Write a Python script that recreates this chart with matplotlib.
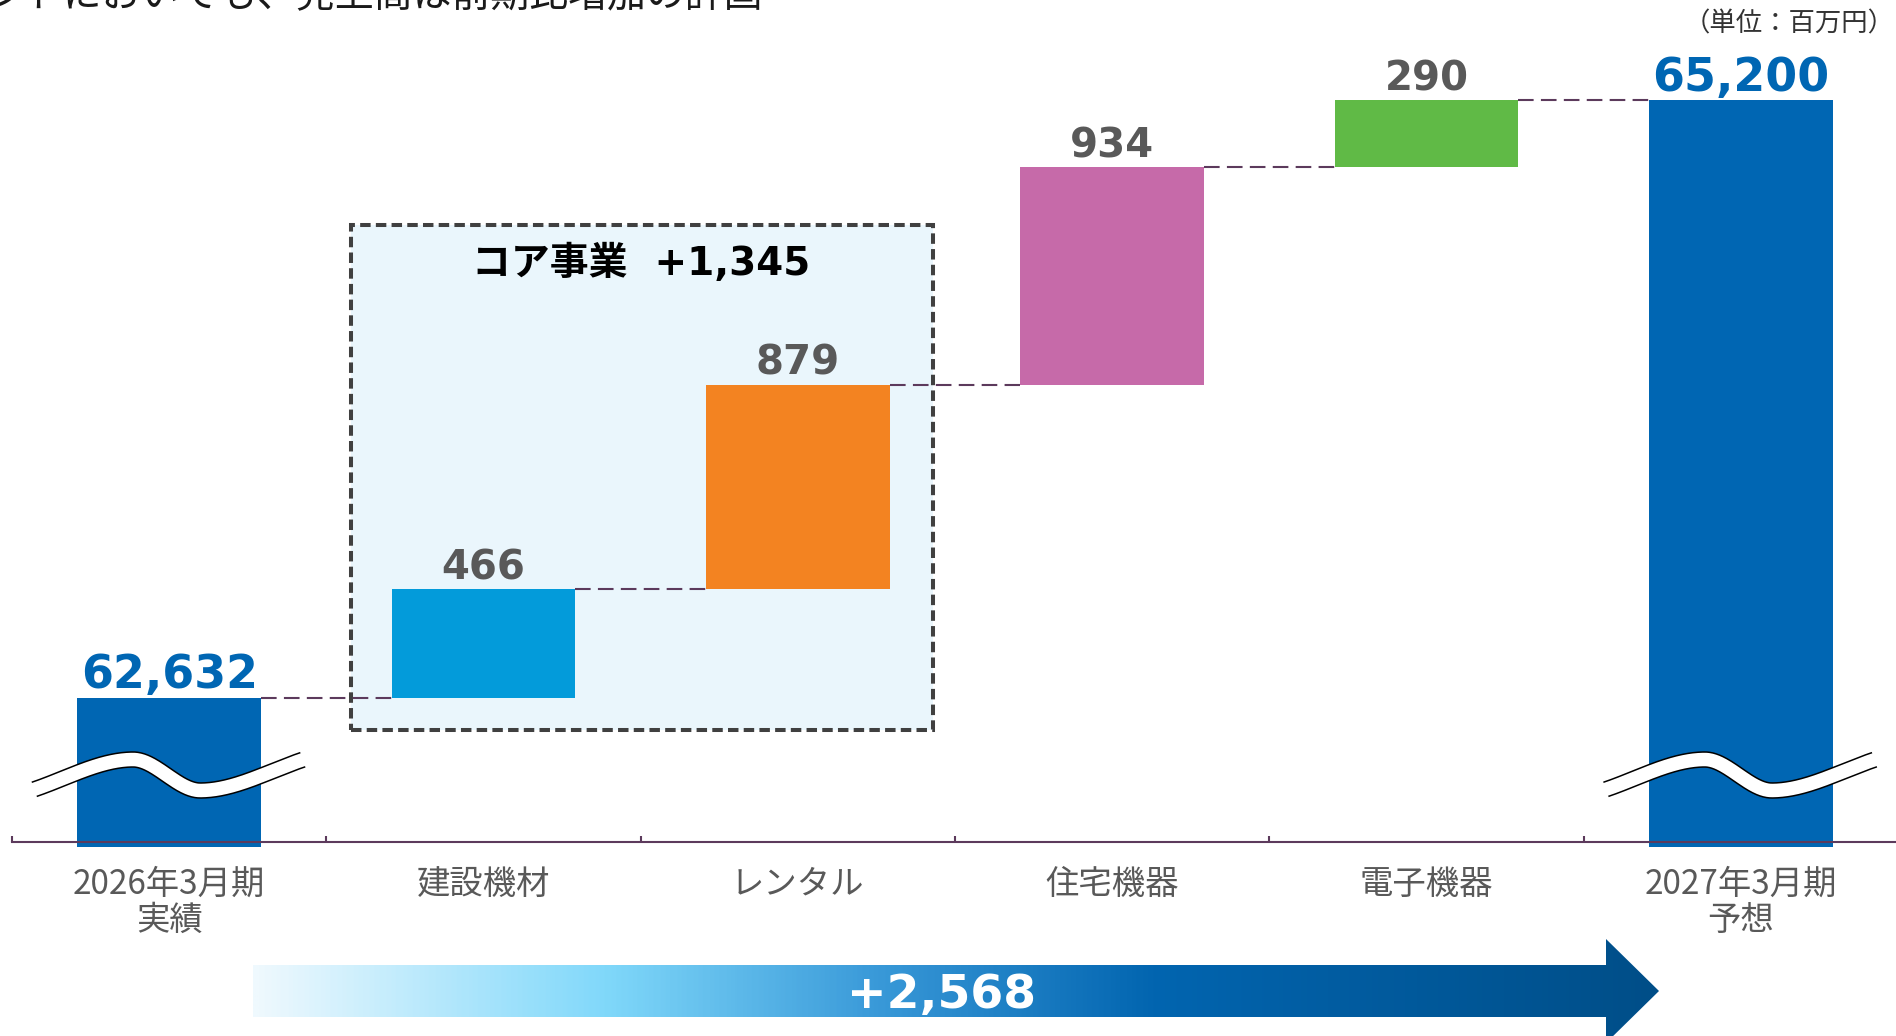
import numpy as np
import matplotlib
matplotlib.use('Agg')
import matplotlib.pyplot as plt
from matplotlib.colors import LinearSegmentedColormap
from matplotlib.patches import Rectangle, Polygon

plt.rcParams['font.family'] = ['Noto Sans CJK JP', 'DejaVu Sans']

# ---------------- data ----------------
categories = ['2026年3月期\n実績', '建設機材', 'レンタル', '住宅機器', '電子機器', '2027年3月期\n予想']
start_value = 62632
end_value = 65200
deltas = [466, 879, 934, 290]
bar_colors = ['#0066B3', '#039BDA', '#F38321', '#C66AA9', '#60BA46', '#0066B3']
core_name = 'コア事業'
title_text = 'ントにおいても、売上高は前期比増加の計画'
unit_text = '（単位：百万円）'

# ---------------- layout ----------------
W, H, DPI = 1896, 1036, 100
Y_BASE = 62011            # value at the (broken) axis line
PX_PER_UNIT = 0.2326      # vertical pixels per 1 million yen
AXIS_PX = 842             # axis line, pixels from top
BAR_W = 0.585
BOX_LEFT, BOX_RIGHT = 0.58, 2.43
BOX_BOTTOM, BOX_TOP = 62492, 64664
BOX_TITLE_Y = 64500

BLUE = '#0066B3'
GRAY = '#595959'
LINE_C = '#5C3A5C'

fig = plt.figure(figsize=(W / DPI, H / DPI), dpi=DPI)
ax = fig.add_axes([12 / W, (H - AXIS_PX) / H, 1886 / W, AXIS_PX / H])
ax.set_xlim(-0.5, 5.5)
ax.set_ylim(Y_BASE, Y_BASE + AXIS_PX / PX_PER_UNIT)

# waterfall geometry
cum = np.concatenate([[start_value], start_value + np.cumsum(deltas)])
below = 5 / PX_PER_UNIT
bottoms = [Y_BASE - below] + list(cum[:-1]) + [Y_BASE - below]
tops = [start_value] + list(cum[1:]) + [end_value]
x = np.arange(len(categories))

# core business box
box = Rectangle((BOX_LEFT, BOX_BOTTOM), BOX_RIGHT - BOX_LEFT, BOX_TOP - BOX_BOTTOM,
                facecolor='#EAF6FC', edgecolor='#404040', linewidth=2.9,
                linestyle=(0, (2.6, 1.3)), zorder=0.5)
ax.add_patch(box)
ax.text((1 + 2) / 2, BOX_TITLE_Y, f'{core_name}  +{sum(deltas[:2]):,}', ha='center', va='center',
        fontsize=28, fontweight='bold', color='black', zorder=4,
        family=['DejaVu Sans', 'Noto Sans CJK JP'])

# bars
for xi, b, t, c in zip(x, bottoms, tops, bar_colors):
    ax.bar(xi, t - b, bottom=b, width=BAR_W, color=c, zorder=2, clip_on=False)

# connectors
levels = [start_value] + list(cum[1:])
for i in range(len(categories) - 1):
    lvl = levels[i] if i < len(levels) else end_value
    ax.plot([i + BAR_W / 2, i + 1 - BAR_W / 2], [lvl, lvl], color=LINE_C, lw=1.5,
            linestyle=(0, (7.5, 3.5)), zorder=1.5)

# value labels
for i, (xi, t) in enumerate(zip(x, tops)):
    if i == 0 or i == len(categories) - 1:
        txt = f'{t:,}'
        col, fs = BLUE, 33
    else:
        txt = f'{deltas[i - 1]:,}'
        col, fs = GRAY, 29
    ax.annotate(txt, (xi, t), xytext=(0, 7), textcoords='offset points', ha='center',
                va='baseline', fontsize=fs, fontweight='bold', color=col,
                family='DejaVu Sans', zorder=5)

# axes styling
for s in ['left', 'right', 'top']:
    ax.spines[s].set_visible(False)
ax.spines['bottom'].set_color(LINE_C)
ax.spines['bottom'].set_linewidth(1.5)
ax.spines['bottom'].set_zorder(6)
ax.set_yticks([])
ax.set_xticks(x)
ax.set_xticklabels(categories, fontsize=24, color=GRAY, linespacing=1.05)
ax.set_xticks(np.arange(-0.5, 6, 1), minor=True)
ax.tick_params(axis='x', which='major', length=0, pad=18)
ax.tick_params(axis='x', which='minor', direction='in', length=4.3, width=1.5, color=LINE_C)
ax.patch.set_visible(False)


# axis break marks
def hermite(xk, yk, mk, xs):
    out = np.empty_like(xs)
    for i in range(len(xk) - 1):
        m = (xs >= xk[i]) & (xs <= xk[i + 1])
        h = xk[i + 1] - xk[i]
        t = (xs[m] - xk[i]) / h
        out[m] = ((2 * t**3 - 3 * t**2 + 1) * yk[i] + (t**3 - 2 * t**2 + t) * h * mk[i]
                  + (-2 * t**3 + 3 * t**2) * yk[i + 1] + (t**3 - t**2) * h * mk[i + 1])
    return out


p0 = ax.transData.transform((0, Y_BASE))
p1 = ax.transData.transform((1, Y_BASE + 1000))
sx = p1[0] - p0[0]
sy = (p1[1] - p0[1]) / 1000
kx = np.array([-142, -36, 31, 140.0])
ky = np.array([50.4, 82.5, 51.5, 84.3])
km = np.array([0.3, 0.0, 0.0, 0.3])
xs_px = np.linspace(-142, 140, 400)
ys_px = hermite(kx, ky, km, xs_px)
inner = (xs_px >= -135) & (xs_px <= 134)
for xc in [0, len(categories) - 1]:
    xd = xc + xs_px / sx
    yd = Y_BASE + ys_px / sy
    ax.plot(xd[inner], yd[inner], color='black', lw=11.9, solid_capstyle='butt', zorder=3, clip_on=False)
    ax.plot(xd, yd, color='white', lw=9.7, solid_capstyle='butt', zorder=3.1, clip_on=False)

# overlay for title, unit and total arrow (pixel coordinates)
ov = fig.add_axes([0, 0, 1, 1], zorder=10)
ov.set_xlim(0, W)
ov.set_ylim(H, 0)
ov.axis('off')
ov.patch.set_visible(False)

ov.text(-14, 6, title_text, fontsize=28, va='baseline', ha='left', color='#1A1A1A')
ov.text(1895, 24, unit_text, fontsize=19, va='center', ha='right', color='#333333')

cmap = LinearSegmentedColormap.from_list('arr', [(0.0, '#EFF9FE'), (0.25, '#80D8FA'),
                                                 (0.44, '#3A9AD9'), (0.64, '#0265B0'),
                                                 (1.0, '#004E88')])
ax0, ax1, hx, tip = 253, 1659, 1606, 1659
ytop, ybot, htop, hbot, ymid = 965, 1017, 939, 1043, 991
pts = [(ax0, ytop), (hx, ytop), (hx, htop), (tip, ymid), (hx, hbot), (hx, ybot), (ax0, ybot)]
poly = Polygon(pts, closed=True, facecolor='none', edgecolor='none', transform=ov.transData)
ov.add_patch(poly)
grad = np.linspace(0, 1, 600).reshape(1, -1)
im = ov.imshow(grad, cmap=cmap, extent=[ax0, tip, hbot, htop], aspect='auto', zorder=1)
im.set_clip_path(poly)
ov.set_xlim(0, W)
ov.set_ylim(H, 0)
ov.text(942, 1008, f'+{end_value - start_value:,}', fontsize=34, fontweight='bold', color='white',
        family='DejaVu Sans', ha='center', va='baseline', zorder=2)

fig.savefig('out.png', dpi=DPI)
